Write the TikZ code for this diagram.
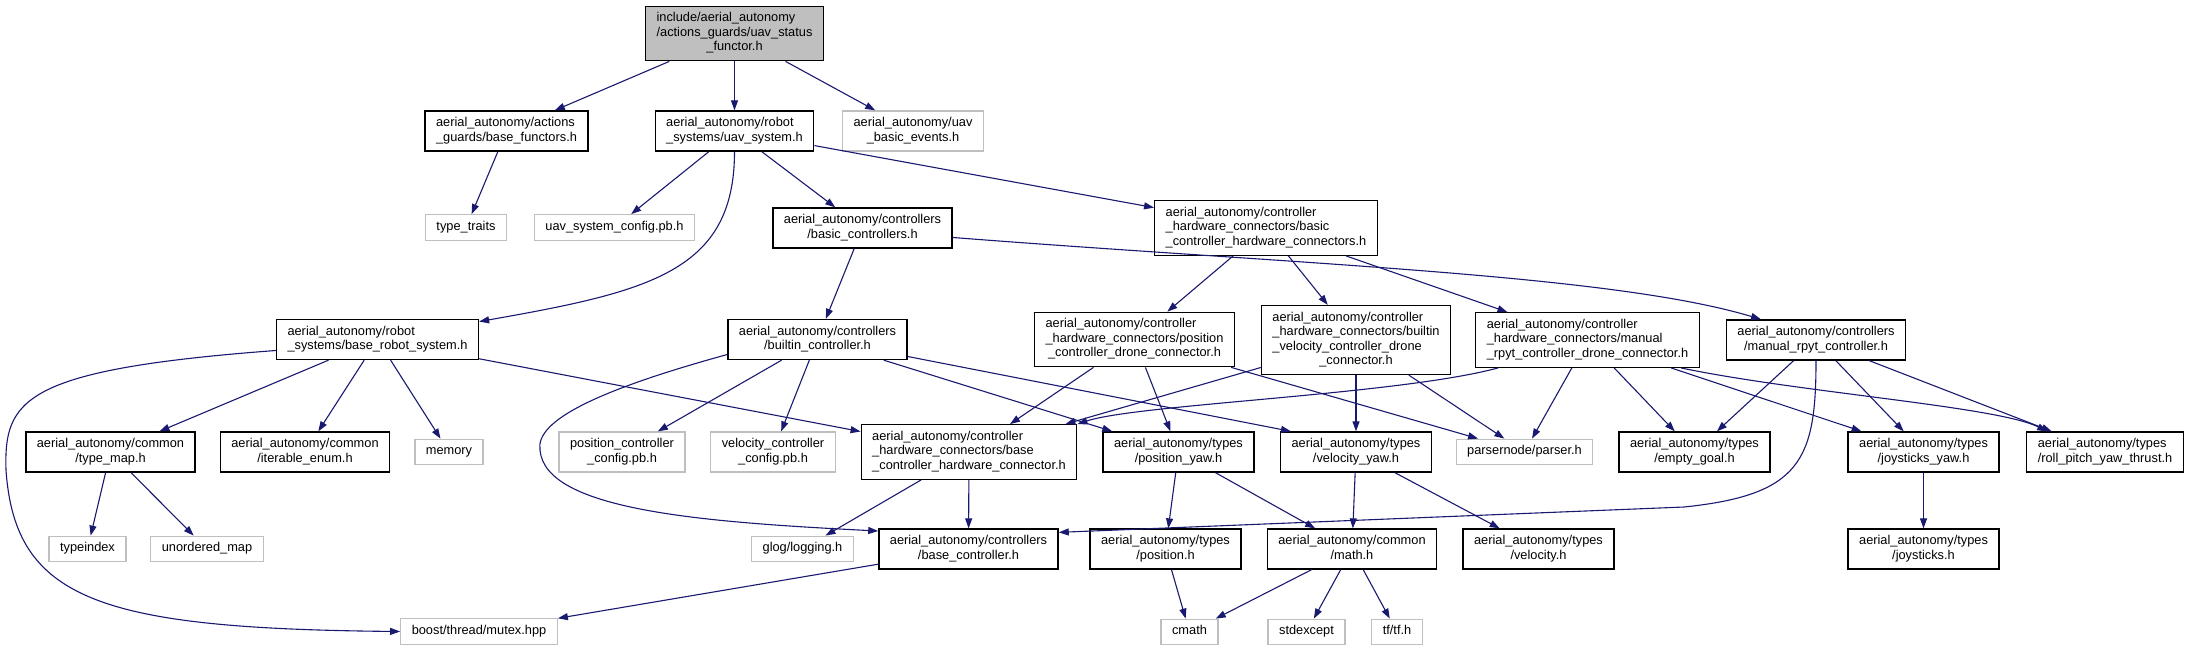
\documentclass[tikz,border=0pt]{standalone}
\usepackage{fontspec}
\setmainfont{Liberation Sans}
\usetikzlibrary{arrows.meta}
\definecolor{depblue}{HTML}{191970}
\definecolor{boxgray}{HTML}{BFBFBF}
\newcommand{\flines}[1]{\begin{tabular}{@{}l@{}}#1\end{tabular}}
\newcommand{\flast}[1]{\multicolumn{1}{@{}c@{}}{#1}}

\begin{document}
\begin{tikzpicture}[x=1pt, y=-1pt,
  file/.style={draw=black, line width=1.3pt, fill=white, inner xsep=11pt, inner ysep=5.5pt,
    font=\fontsize{12.8}{14.5}\selectfont},
  sys/.style={file, draw=boxgray},
  dep/.style={draw=depblue, line width=1.1pt, -{Triangle[length=10pt, width=7pt]}}]

\useasboundingbox (0,0) rectangle (2191,651);

% 第一层
\node[file, fill=boxgray] (R) at (734.5,33.5) {\flines{include/aerial\_autonomy\\/actions\_guards/uav\_status\\\flast{\_functor.h}}};

% 第二层
\node[file] (BF) at (506.5,131) {\flines{aerial\_autonomy/actions\\\flast{\_guards/base\_functors.h}}};
\node[file] (US) at (734.5,131) {\flines{aerial\_autonomy/robot\\\flast{\_systems/uav\_system.h}}};
\node[sys] (UE) at (913,131) {\flines{aerial\_autonomy/uav\\\flast{\_basic\_events.h}}};

% 第三层
\node[sys] (TT) at (466,227.5) {\flines{type\_traits}};
\node[sys] (UC) at (614.5,227.5) {\flines{uav\_system\_config.pb.h}};
\node[file] (BC) at (862.5,228) {\flines{aerial\_autonomy/controllers\\\flast{/basic\_controllers.h}}};
\node[file] (HC) at (1266,228) {\flines{aerial\_autonomy/controller\\\_hardware\_connectors/basic\\\flast{\_controller\_hardware\_connectors.h}}};

% 第四层
\node[file] (RS) at (377.5,339.5) {\flines{aerial\_autonomy/robot\\\flast{\_systems/base\_robot\_system.h}}};
\node[file] (BI) at (817.5,339.5) {\flines{aerial\_autonomy/controllers\\\flast{/builtin\_controller.h}}};
\node[file] (PD) at (1134.5,339.5) {\flines{aerial\_autonomy/controller\\\_hardware\_connectors/position\\\flast{\_controller\_drone\_connector.h}}};
\node[file] (VD) at (1356,340) {\flines{aerial\_autonomy/controller\\\_hardware\_connectors/builtin\\\_velocity\_controller\_drone\\\flast{\_connector.h}}};
\node[file] (MD) at (1587.5,340) {\flines{aerial\_autonomy/controller\\\_hardware\_connectors/manual\\\flast{\_rpyt\_controller\_drone\_connector.h}}};
\node[file] (MC) at (1816,340) {\flines{aerial\_autonomy/controllers\\\flast{/manual\_rpyt\_controller.h}}};

% 第五层
\node[file] (TM) at (110.5,452) {\flines{aerial\_autonomy/common\\\flast{/type\_map.h}}};
\node[file] (IE) at (305,452) {\flines{aerial\_autonomy/common\\\flast{/iterable\_enum.h}}};
\node[sys] (MEM) at (449,452) {\flines{memory}};
\node[sys] (PC) at (622,452) {\flines{position\_controller\\\flast{\_config.pb.h}}};
\node[sys] (VC) at (773,452) {\flines{velocity\_controller\\\flast{\_config.pb.h}}};
\node[file] (BH) at (969,452) {\flines{aerial\_autonomy/controller\\\_hardware\_connectors/base\\\flast{\_controller\_hardware\_connector.h}}};
\node[file] (PY) at (1178.5,452) {\flines{aerial\_autonomy/types\\\flast{/position\_yaw.h}}};
\node[file] (VY) at (1356,452) {\flines{aerial\_autonomy/types\\\flast{/velocity\_yaw.h}}};
\node[sys] (PN) at (1524.5,452) {\flines{parsernode/parser.h}};
\node[file] (EG) at (1694.5,452) {\flines{aerial\_autonomy/types\\\flast{/empty\_goal.h}}};
\node[file] (JY) at (1923.5,452) {\flines{aerial\_autonomy/types\\\flast{/joysticks\_yaw.h}}};
\node[file] (RT) at (2105,452) {\flines{aerial\_autonomy/types\\\flast{/roll\_pitch\_yaw\_thrust.h}}};

% 第六层
\node[sys] (TI) at (87.5,549) {\flines{typeindex}};
\node[sys] (UM) at (207,549) {\flines{unordered\_map}};
\node[sys] (GL) at (802.5,549) {\flines{glog/logging.h}};
\node[file] (BCT) at (968.5,549) {\flines{aerial\_autonomy/controllers\\\flast{/base\_controller.h}}};
\node[file] (POS) at (1165.5,549) {\flines{aerial\_autonomy/types\\\flast{/position.h}}};
\node[file] (MATH) at (1352,549) {\flines{aerial\_autonomy/common\\\flast{/math.h}}};
\node[file] (VEL) at (1538.5,549) {\flines{aerial\_autonomy/types\\\flast{/velocity.h}}};
\node[file] (JS) at (1923.5,549) {\flines{aerial\_autonomy/types\\\flast{/joysticks.h}}};

% 第七层
\node[sys] (MTX) at (479,631.5) {\flines{boost/thread/mutex.hpp}};
\node[sys] (CM) at (1189.5,632) {\flines{cmath}};
\node[sys] (SE) at (1306.5,632) {\flines{stdexcept}};
\node[sys] (TF) at (1397,632) {\flines{tf/tf.h}};

% 直线依赖
\draw[dep] (R) -- (BF);
\draw[dep] (R) -- (US);
\draw[dep] (R) -- (UE);
\draw[dep] (BF) -- (TT);
\draw[dep] (US) -- (UC);
\draw[dep] (US) -- (BC);
\draw[dep] (US) -- (HC);
\draw[dep] (BC) -- (BI);
\draw[dep] (HC) -- (PD);
\draw[dep] (HC) -- (VD);
\draw[dep] (HC) -- (MD);
\draw[dep] (RS) -- (TM);
\draw[dep] (RS) -- (IE);
\draw[dep] (RS) -- (MEM);
\draw[dep] (RS) -- (BH);
\draw[dep] (TM) -- (TI);
\draw[dep] (TM) -- (UM);
\draw[dep] (BI) -- (PC);
\draw[dep] (BI) -- (VC);
\draw[dep] (BI) -- (PY);
\draw[dep] ([yshift=-17pt]BI.east) -- ([xshift=11pt]VY.north west);
\draw[dep] (PD) -- (BH);
\draw[dep] (PD) -- (PY);
\draw[dep] (PD) -- (PN);
\draw[dep] (VD) -- (BH);
\draw[dep] (VD) -- (VY);
\draw[dep] (VD) -- (PN);
\draw[dep] (MD) -- (PN);
\draw[dep] (MD) -- (EG);
\draw[dep] (MD) -- (JY);
\draw[dep] (MC) -- (EG);
\draw[dep] (MC) -- (JY);
\draw[dep] (MC) -- (RT);
\draw[dep] (BH) -- (GL);
\draw[dep] (BH) -- (BCT);
\draw[dep] (BCT) -- (MTX);
\draw[dep] (PY) -- (POS);
\draw[dep] (PY) -- (MATH);
\draw[dep] (VY) -- (MATH);
\draw[dep] (VY) -- (VEL);
\draw[dep] (JY) -- (JS);
\draw[dep] (POS) -- (CM);
\draw[dep] (MATH) -- (CM);
\draw[dep] (MATH) -- (SE);
\draw[dep] (MATH) -- (TF);

% 曲线依赖
\draw[dep] (US.south) .. controls +(0,120) and +(170,-30) .. (RS.10);
\draw[dep] (BC.-6) .. controls +(347,27) and +(-150,-45) .. ([xshift=-55pt]MC.north);
\draw[dep] ([yshift=-11pt]RS.west) .. controls +(-254,19) and +(-2,-70) .. (6,470)
  .. controls +(9,130) and +(-300,-3) .. (MTX.west);
\draw[dep] ([yshift=-15pt]BI.west) .. controls +(-127,35) and +(-5,-30) .. (540,450)
  .. controls +(5,60) and +(-178,-9) .. ([yshift=18pt]BCT.west);
\draw[dep] (MC.south) .. controls +(0,100) and +(116,-12) .. (1684,507) -- ([yshift=-4pt]BCT.north east);
\draw[dep] ([xshift=23pt]MD.south west) .. controls +(-100,27) and +(60,-20) .. (BH.north east);
\draw[dep] ([xshift=-19pt]MD.south east) .. controls +(120,25) and +(-50,-25) .. ([xshift=21pt]RT.north west);

\end{tikzpicture}
\end{document}
